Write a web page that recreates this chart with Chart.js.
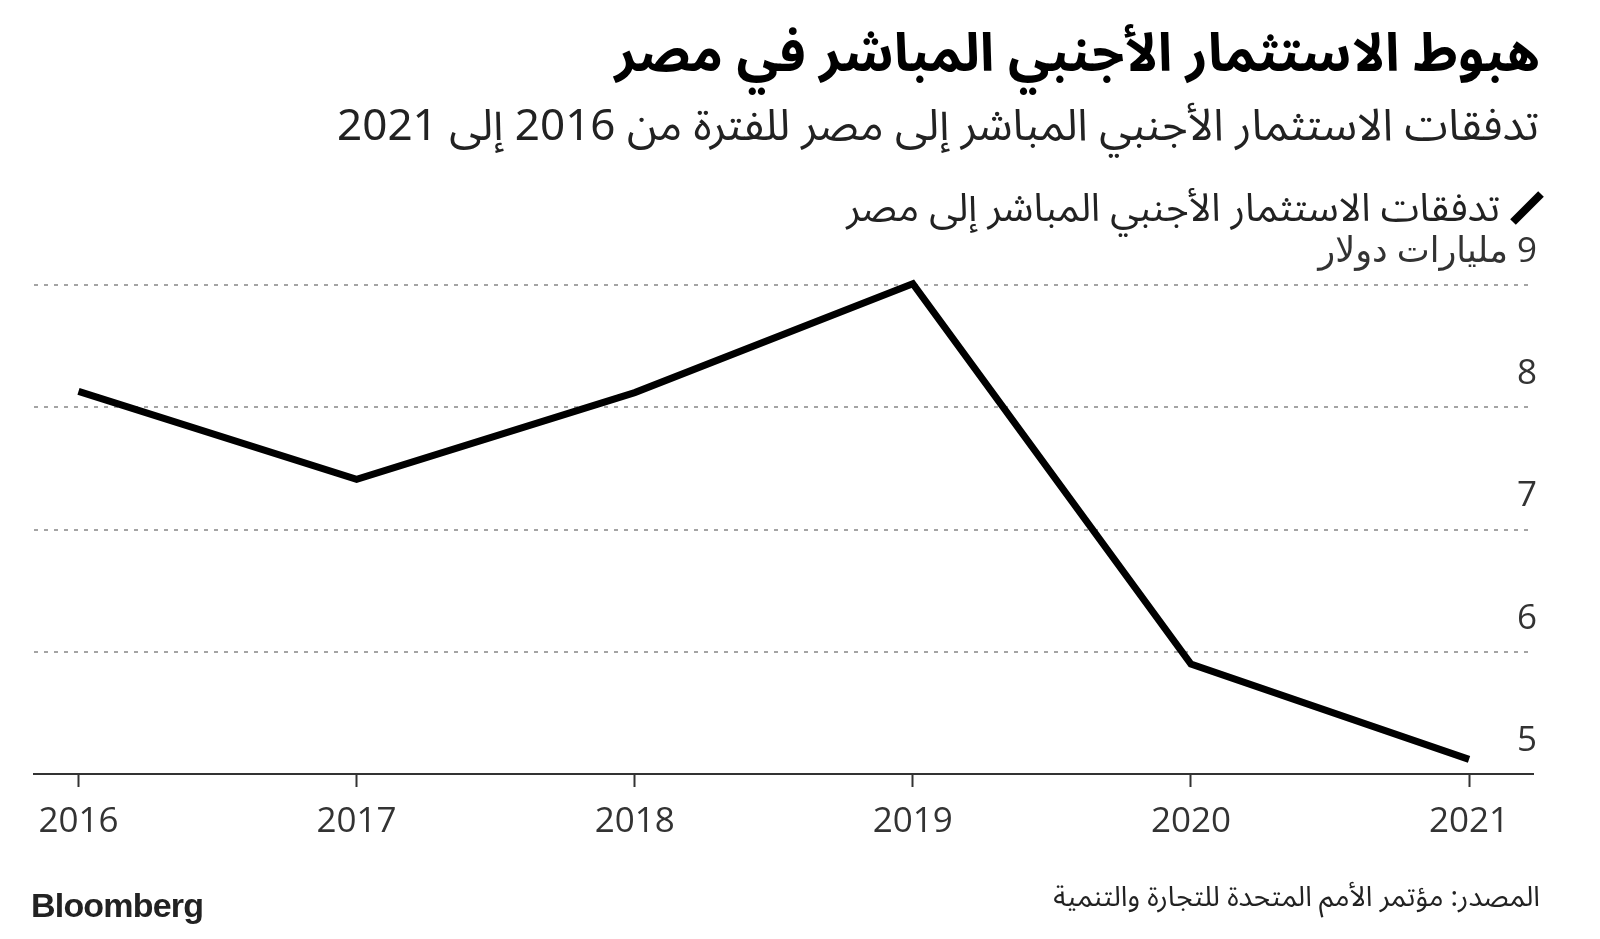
<!DOCTYPE html>
<html lang="ar">
<head>
<meta charset="utf-8">
<script src="https://cdn.jsdelivr.net/npm/chart.js@4.4.1/dist/chart.umd.min.js"></script>
<style>
  html, body { margin: 0; padding: 0; background: #fff; }
  #wrap { position: relative; width: 1600px; height: 939px; overflow: hidden; }
  #chart { position: absolute; left: 0; top: 0; }
  .ar { position: absolute; direction: rtl; white-space: nowrap; line-height: 1;
        font-family: 'Noto Sans Arabic', 'Noto Kufi Arabic', 'DejaVu Sans', sans-serif; }
  #title { right: 60px; top: 28px; font-size: 53px; font-weight: bold; color: #000; }
  #subtitle { right: 61px; top: 104px; font-size: 44px; color: #222; }
  #legend { right: 100px; top: 189px; font-size: 39px; color: #222; }
  #pencil { position: absolute; left: 1508px; top: 189px; }
  #source { right: 60px; top: 884px; font-size: 28px; color: #222; }
  #brand { position: absolute; left: 31px; top: 888px; font-family: 'Liberation Sans', Arial, sans-serif;
           font-weight: bold; font-size: 34px; letter-spacing: -0.8px; color: #222; line-height: 1; }
</style>
</head>
<body>
<div id="wrap">
  <canvas id="chart" width="1600" height="939" dir="rtl"></canvas>
  <div class="ar" id="title">هبوط الاستثمار الأجنبي المباشر في مصر</div>
  <div class="ar" id="subtitle">تدفقات الاستثمار الأجنبي المباشر إلى مصر للفترة من 2016 إلى 2021</div>
  <svg id="pencil" width="38" height="38" viewBox="0 0 38 38">
    <line x1="5" y1="33" x2="33" y2="5" stroke="#000" stroke-width="8" />
  </svg>
  <div class="ar" id="legend">تدفقات الاستثمار الأجنبي المباشر إلى مصر</div>
  <div id="brand">Bloomberg</div>
  <div class="ar" id="source">المصدر: مؤتمر الأمم المتحدة للتجارة والتنمية</div>
</div>
<script>
// Data
const years = [2016, 2017, 2018, 2019, 2020, 2021];
const fdi = [8.13, 7.41, 8.12, 9.01, 5.90, 5.12];
const unitLabel = 'مليارات دولار';
const seriesLabel = 'تدفقات الاستثمار الأجنبي المباشر إلى مصر';

const tickFont = { family: "'Open Sans', 'DejaVu Sans', sans-serif", size: 35 };

const ctx = document.getElementById('chart').getContext('2d');

const fdiChart = new Chart(ctx, {
    type: 'line',
    data: {
        datasets: [{
            label: seriesLabel,
            data: years.map((yr, i) => ({ x: yr, y: fdi[i] })),
            borderColor: '#000',
            borderWidth: 7,
            pointRadius: 0,
            tension: 0,
            clip: false,
            borderJoinStyle: 'miter',
            borderCapStyle: 'butt',
        }],
    },
    options: {
        responsive: false,
        animation: false,
        layout: { padding: { left: 34, right: 63, top: 285, bottom: 85 } },
        plugins: {
            legend: { display: false },
            tooltip: { enabled: false },
        },
        scales: {
            x: {
                type: 'linear',
                min: 2015.84,
                max: 2021.23,
                afterFit: (scale) => { scale.height = 80; },
                grid: {
                    drawOnChartArea: false,
                    drawTicks: true,
                    tickLength: 13,
                    tickColor: '#333',
                    tickWidth: 2,
                },
                border: { display: true, color: '#333', width: 2 },
                ticks: {
                    stepSize: 1,
                    includeBounds: false,
                    autoSkip: false,
                    maxRotation: 0,
                    padding: 14,
                    color: '#333',
                    font: tickFont,
                    callback: (v) => String(v),
                },
            },
            y: {
                position: 'right',
                min: 5,
                max: 9,
                afterFit: (scale) => { scale.width = 4; },
                grid: {
                    drawTicks: false,
                    lineWidth: 2,
                    color: (c) => (c.tick && c.tick.value === 5 ? 'rgba(0,0,0,0)' : '#a4a4a4'),
                },
                border: { display: false, dash: [4, 6] },
                ticks: {
                    stepSize: 1,
                    mirror: true,
                    crossAlign: 'near',
                    padding: 4,
                    labelOffset: -33,
                    color: '#333',
                    font: tickFont,
                    callback: (v) => (v === 9 ? '9 ' + unitLabel : String(v)),
                },
            },
        },
    },
});
</script>
</body>
</html>
